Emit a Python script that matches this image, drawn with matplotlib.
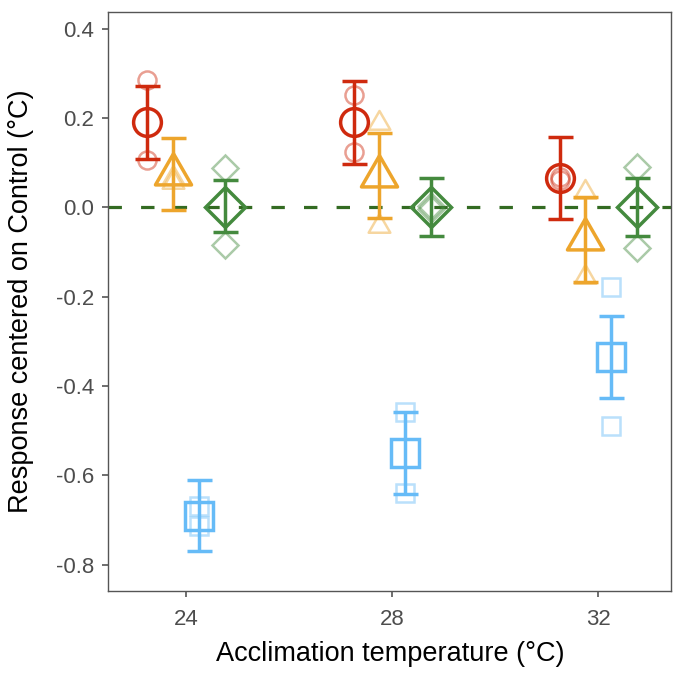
import numpy as np
import matplotlib
matplotlib.use('Agg')
import matplotlib.pyplot as plt
from matplotlib.path import Path

plt.rcParams['font.family'] = ['Liberation Sans', 'DejaVu Sans']

temps = [24, 28, 32]

# group: mean, lower, upper, replicate values (2 per temperature)
red_mean = [0.191, 0.190, 0.065]
red_lo = [0.109, 0.097, -0.027]
red_hi = [0.272, 0.283, 0.158]
red_reps = [[0.285, 0.106], [0.251, 0.124], [0.068, 0.062]]

orange_mean = [0.075, 0.071, -0.072]
orange_lo = [-0.005, -0.023, -0.166]
orange_hi = [0.156, 0.166, 0.022]
orange_reps = [[0.065, 0.057], [0.189, -0.041], [0.035, -0.155]]

blue_mean = [-0.690, -0.549, -0.334]
blue_lo = [-0.769, -0.642, -0.426]
blue_hi = [-0.610, -0.457, -0.243]
blue_reps = [[-0.668, -0.714], [-0.459, -0.640], [-0.179, -0.489]]

green_mean = [0.0, 0.0, 0.0]
green_lo = [-0.055, -0.064, -0.064]
green_hi = [0.060, 0.065, 0.065]
green_reps = [[0.088, -0.084], [0.004, -0.004], [0.091, -0.092]]

# triangle centred on its centroid (like R's pch 2)
tri = Path([(0, 1), (-0.866, -0.5), (0.866, -0.5), (0, 1)],
           [Path.MOVETO, Path.LINETO, Path.LINETO, Path.CLOSEPOLY])

groups = [
    (red_mean, red_lo, red_hi, red_reps, '#CF2A0E', 'o', 20, 13, -0.75),
    (orange_mean, orange_lo, orange_hi, orange_reps, '#EDA52C', tri, 30, 18, -0.25),
    (blue_mean, blue_lo, blue_hi, blue_reps, '#66BBF7', 's', 20, 13, 0.25),
    (green_mean, green_lo, green_hi, green_reps, '#448A3E', 'D', 20, 13, 0.75),
]

fig = plt.figure(figsize=(6.77, 6.76), dpi=100)
ax = fig.add_axes([0.16, 0.1262, 0.8316, 0.8565])

ax.axhline(0, color='#336B22', lw=2.3, dashes=(4.2, 6.0), zorder=1)

for mean, lo, hi, reps, col, mk, ms, ms_rep, off in groups:
    x = np.array(temps) + off
    for xi, r in zip(x, reps):
        ax.plot([xi] * len(r), r, linestyle='none', marker=mk, ms=ms_rep,
                mfc='none', mec=col, mew=1.8, alpha=0.45, zorder=2)
    m = np.array(mean)
    err = [m - np.array(lo), np.array(hi) - m]
    ax.errorbar(x, m, yerr=err, fmt='none', ecolor=col, elinewidth=2.5,
                capsize=9, capthick=2.5, zorder=3)
    ax.plot(x, m, linestyle='none', marker=mk, ms=ms, mfc='none', mec=col,
            mew=2.5, zorder=4)

ax.set_xlim(22.49, 33.42)
ax.set_ylim(-0.8577, 0.4376)
ax.set_xticks(temps)
ax.set_yticks([0.4, 0.2, 0.0, -0.2, -0.4, -0.6, -0.8])
ax.set_yticklabels(['0.4', '0.2', '0.0', '-0.2', '-0.4', '-0.6', '-0.8'])

for s in ax.spines.values():
    s.set_color('#555555')
    s.set_linewidth(1.0)
ax.tick_params(colors='#555555', length=4, width=1.2, labelsize=16,
               labelcolor='#4D4D4D', pad=6)
ax.tick_params(axis='x', pad=9)

ax.set_xlabel('Acclimation temperature (°C)', fontsize=19.5, labelpad=8)
ax.set_ylabel('Response centered on Control (°C)', fontsize=19.5, labelpad=16)

fig.savefig('out.png', dpi=100)
